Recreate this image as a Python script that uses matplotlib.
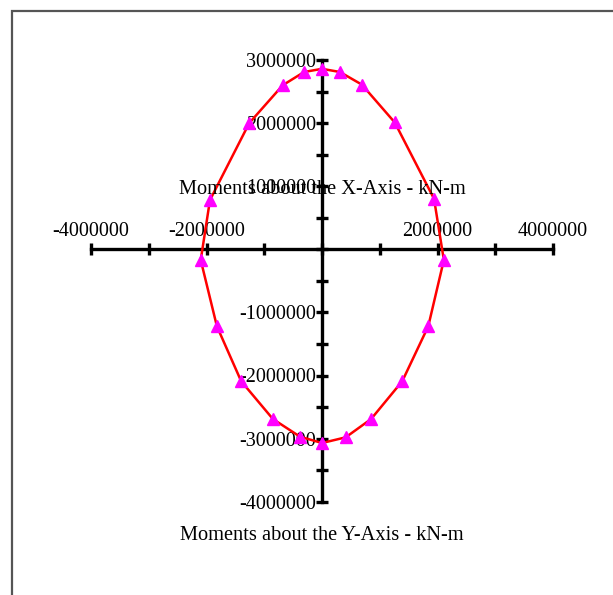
import matplotlib
matplotlib.use("Agg")
import matplotlib.pyplot as plt
from matplotlib.ticker import MultipleLocator, FuncFormatter
from matplotlib.patches import Rectangle

# Interaction points (moments in kN-m), traced clockwise from the top
mx = [0, 310000, 690000, 1260000, 1940000, 2110000, 1840000, 1390000, 850000,
      410000, 0, -380000, -850000, -1400000, -1820000, -2100000, -1940000,
      -1260000, -680000, -310000, 0]
my = [2860000, 2810000, 2610000, 2010000, 800000, -170000, -1220000, -2090000,
      -2690000, -2980000, -3070000, -2970000, -2690000, -2090000, -1220000,
      -170000, 780000, 2000000, 2600000, 2810000, 2860000]

x_title = "Moments about the X-Axis - kN-m"
y_title = "Moments about the Y-Axis - kN-m"

plt.rcParams["font.family"] = ["Liberation Serif", "DejaVu Serif"]

W, H = 613, 595
fig = plt.figure(figsize=(W / 100, H / 100), dpi=100)

# outer frame (top and left edges visible)
fig.patches.append(Rectangle((12 / W, -0.1), 1.2, 1 - 11 / H + 0.1,
                             transform=fig.transFigure, fill=False,
                             edgecolor="#555555", linewidth=1.6))

ax = fig.add_axes([91 / W, 1 - 501.7 / H, 462 / W, 441.7 / H])
ax.set_xlim(-4000000, 4000000)
ax.set_ylim(-4000000, 3000000)

ax.plot(mx, my, color="red", linewidth=1.8, zorder=3, clip_on=False)
ax.plot(mx[:-1], my[:-1], linestyle="none", marker="^", markersize=8,
        color="#ff00ff", zorder=4, clip_on=False)

# axes crossing at the origin
for side in ("right", "bottom"):
    ax.spines[side].set_visible(False)
ax.spines["left"].set_position(("data", 0))
ax.spines["top"].set_position(("data", 0))
for side in ("left", "top"):
    ax.spines[side].set_linewidth(2.4)
    ax.spines[side].set_color("black")

ax.xaxis.set_ticks_position("top")
ax.yaxis.set_ticks_position("left")
ax.xaxis.set_major_locator(MultipleLocator(2000000))
ax.xaxis.set_minor_locator(MultipleLocator(1000000))
ax.yaxis.set_major_locator(MultipleLocator(1000000))
ax.yaxis.set_minor_locator(MultipleLocator(500000))

fmt = FuncFormatter(lambda v, p: "" if abs(v) < 1 else f"{v:.0f}")
ax.xaxis.set_major_formatter(fmt)
ax.yaxis.set_major_formatter(fmt)

ax.tick_params(which="both", direction="inout", length=8, width=2.4,
               color="black", labelsize=14.5)
ax.tick_params(axis="x", pad=2)
ax.tick_params(axis="y", pad=0)

ax.patch.set_visible(False)

fig.text(322 / W, 1 - 190 / H, x_title, ha="center", va="center", fontsize=14.7)
fig.text(322 / W, 1 - 535 / H, y_title, ha="center", va="center", fontsize=14.7)

fig.savefig("out.png", dpi=100)
